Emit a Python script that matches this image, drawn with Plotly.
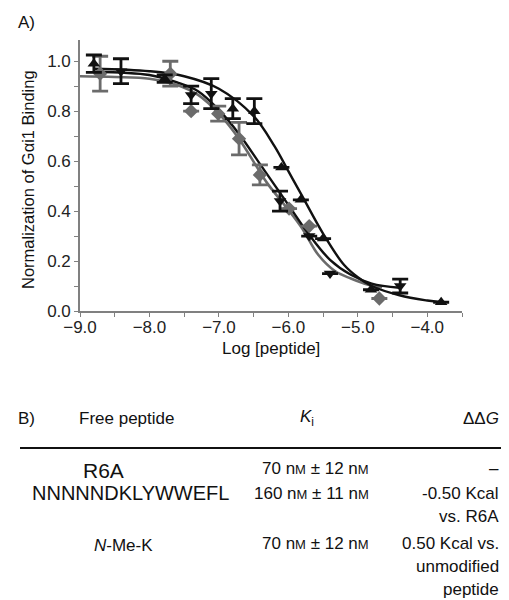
import plotly.graph_objects as go

# ---------------- data ----------------
# Series 1: black up-triangles
up_x = [-8.80, -7.78, -6.80, -6.49, -6.10, -5.82, -5.50, -4.81, -3.80]
up_y = [0.99, 0.93, 0.81, 0.80, 0.575, 0.445, 0.29, 0.085, 0.035]
up_err = [0.035, 0.015, 0.04, 0.05, 0.0, 0.0, 0.0, 0.0, 0.0]

# Series 2: black down-triangles
dn_x = [-8.41, -7.40, -7.11, -6.12, -5.70, -5.40, -4.39]
dn_y = [0.96, 0.865, 0.87, 0.44, 0.30, 0.15, 0.10]
dn_err = [0.05, 0.035, 0.06, 0.04, 0.0, 0.0, 0.028]

# Series 3: grey diamonds
dm_x = [-8.71, -7.70, -7.40, -7.01, -6.71, -6.41, -5.99, -5.70, -4.69]
dm_y = [0.95, 0.95, 0.80, 0.79, 0.69, 0.545, 0.41, 0.34, 0.05]
dm_err = [0.07, 0.05, 0.0, 0.03, 0.065, 0.04, 0.0, 0.0, 0.0]

# Fitted curves
fit_up_x = [-8.80, -8.0, -7.5, -7.0, -6.5, -6.2, -6.0, -5.8, -5.5, -5.2, -5.0, -4.8, -4.4, -4.0, -3.8]
fit_up_y = [0.97, 0.96, 0.94, 0.89, 0.78, 0.66, 0.56, 0.46, 0.31, 0.185, 0.135, 0.10, 0.063, 0.042, 0.035]

fit_dn_x = [-8.80, -8.0, -7.6, -7.3, -7.0, -6.7, -6.4, -6.2, -6.0, -5.7, -5.4, -5.1, -4.8, -4.4]
fit_dn_y = [0.958, 0.945, 0.915, 0.88, 0.805, 0.705, 0.585, 0.505, 0.425, 0.305, 0.205, 0.145, 0.11, 0.093]

fit_dm_x = [-9.0, -8.5, -8.0, -7.6, -7.3, -7.0, -6.7, -6.45, -6.3, -6.0, -5.8, -5.57, -5.33, -5.1, -4.85, -4.65]
fit_dm_y = [0.94, 0.937, 0.93, 0.905, 0.865, 0.79, 0.685, 0.575, 0.51, 0.405, 0.33, 0.225, 0.16, 0.13, 0.105, 0.095]

x_ticks = [-9, -8, -7, -6, -5, -4]
x_tick_text = ["\u22129.0", "\u22128.0", "\u22127.0", "\u22126.0", "\u22125.0", "\u22124.0"]
y_ticks = [0.0, 0.2, 0.4, 0.6, 0.8, 1.0]
y_tick_text = ["0.0", "0.2", "0.4", "0.6", "0.8", "1.0"]

# Table (panel B)
tbl_header = ["Free peptide", "<i>K</i><sub>i</sub>", "\u0394\u0394<i>G</i>"]
tbl_peptides = ["R6A", "NNNNNDKLYWWEFL", "<i>N</i>-Me-K"]
SM = "n<span style='font-size:13px'>M</span>"
tbl_ki = ["70 " + SM + " \u00b1 12 " + SM,
          "160 " + SM + " \u00b1 11 " + SM,
          "70 " + SM + " \u00b1 12 " + SM]
tbl_ddg = ["\u2013", "-0.50 Kcal", "vs. R6A", "0.50 Kcal vs.", "unmodified", "peptide"]

# ---------------- figure ----------------
BLACK = "#111111"
GREY = "#6b6b6b"
FONT = "Liberation Sans, Arial, sans-serif"

W, H = 509, 600
L, R, T, B = 72, 55, 32, 297
PW, PH = W - L - R, H - T - B


def px(x):
    return (x - L) / PW


def py(y):
    return (H - B - y) / PH


fig = go.Figure()

fig.add_trace(go.Scatter(x=fit_dm_x, y=fit_dm_y, mode="lines", line=dict(color=GREY, width=2.6, shape="spline"),
                         showlegend=False, hoverinfo="skip"))
fig.add_trace(go.Scatter(x=fit_dn_x, y=fit_dn_y, mode="lines", line=dict(color=BLACK, width=2.4, shape="spline"),
                         showlegend=False, hoverinfo="skip"))
fig.add_trace(go.Scatter(x=fit_up_x, y=fit_up_y, mode="lines", line=dict(color=BLACK, width=2.4, shape="spline"),
                         showlegend=False, hoverinfo="skip"))

fig.add_trace(go.Scatter(x=dm_x, y=dm_y, mode="markers",
                         marker=dict(symbol="diamond", size=11, color=GREY),
                         error_y=dict(type="data", array=dm_err, color=GREY, thickness=2.8, width=8),
                         showlegend=False))
fig.add_trace(go.Scatter(x=dn_x, y=dn_y, mode="markers",
                         marker=dict(symbol="triangle-down", size=11, color=BLACK),
                         error_y=dict(type="data", array=dn_err, color=BLACK, thickness=2.8, width=8),
                         showlegend=False))
fig.add_trace(go.Scatter(x=up_x, y=up_y, mode="markers",
                         marker=dict(symbol="triangle-up", size=11, color=BLACK),
                         error_y=dict(type="data", array=up_err, color=BLACK, thickness=2.8, width=8),
                         showlegend=False))

axis_common = dict(showline=True, linecolor="#808080", linewidth=1.6, ticks="outside", tickcolor="#808080",
                   ticklen=4, tickwidth=1.4, showgrid=False, zeroline=False,
                   tickfont=dict(family=FONT, size=17, color="#222222"))

fig.update_xaxes(range=[-9, -3.5], tickvals=x_ticks, ticktext=x_tick_text, ticklabelstandoff=-4,
                 minor=dict(dtick=0.5, tick0=-9, ticks="outside", ticklen=4, tickcolor="#808080", tickwidth=1.4),
                 **axis_common)
fig.update_yaxes(range=[0, 1.085], tickvals=y_ticks, ticktext=y_tick_text,
                 minor=dict(dtick=0.1, tick0=0, ticks="outside", ticklen=4, tickcolor="#808080", tickwidth=1.4),
                 **axis_common)

ann = []


def text(s, x, y, size=16, xanchor="center", angle=0):
    ann.append(dict(text=s, x=px(x), y=py(y), xref="paper", yref="paper", showarrow=False,
                    xanchor=xanchor, yanchor="middle", textangle=angle,
                    font=dict(family=FONT, size=size, color="#111111")))


text("A)", 8, 15, 17, "left")
text("Normalization of G\u03b1i1 Binding", 20, 172, 16.5, angle=-90)
text("Log [peptide]", 263, 341, 17)

text("B)", 8, 410, 17, "left")
text(tbl_header[0], 118, 410, 17)
text(tbl_header[1], 299, 410, 17)
text(tbl_header[2], 493, 410, 17, "right")

text(tbl_peptides[0], 95, 462, 21)
text(tbl_peptides[1], 122, 485, 20)
text(tbl_peptides[2], 115, 537, 17)

text(tbl_ki[0], 363, 460, 17, "right")
text(tbl_ki[1], 363, 485, 17, "right")
text(tbl_ki[2], 363, 535, 17, "right")

ddg_y = [460, 485, 508, 535, 558, 581]
for s, yy in zip(tbl_ddg, ddg_y):
    text(s, 493, yy, 17, "right")

fig.update_layout(
    width=W, height=H,
    margin=dict(l=L, r=R, t=T, b=B, pad=0),
    paper_bgcolor="white", plot_bgcolor="white",
    annotations=ann,
    shapes=[dict(type="line", xref="paper", yref="paper", x0=px(12), x1=px(498), y0=py(440), y1=py(440),
                 line=dict(color="#111111", width=1.8))],
    font=dict(family=FONT),
)

fig.write_html("out.html")
